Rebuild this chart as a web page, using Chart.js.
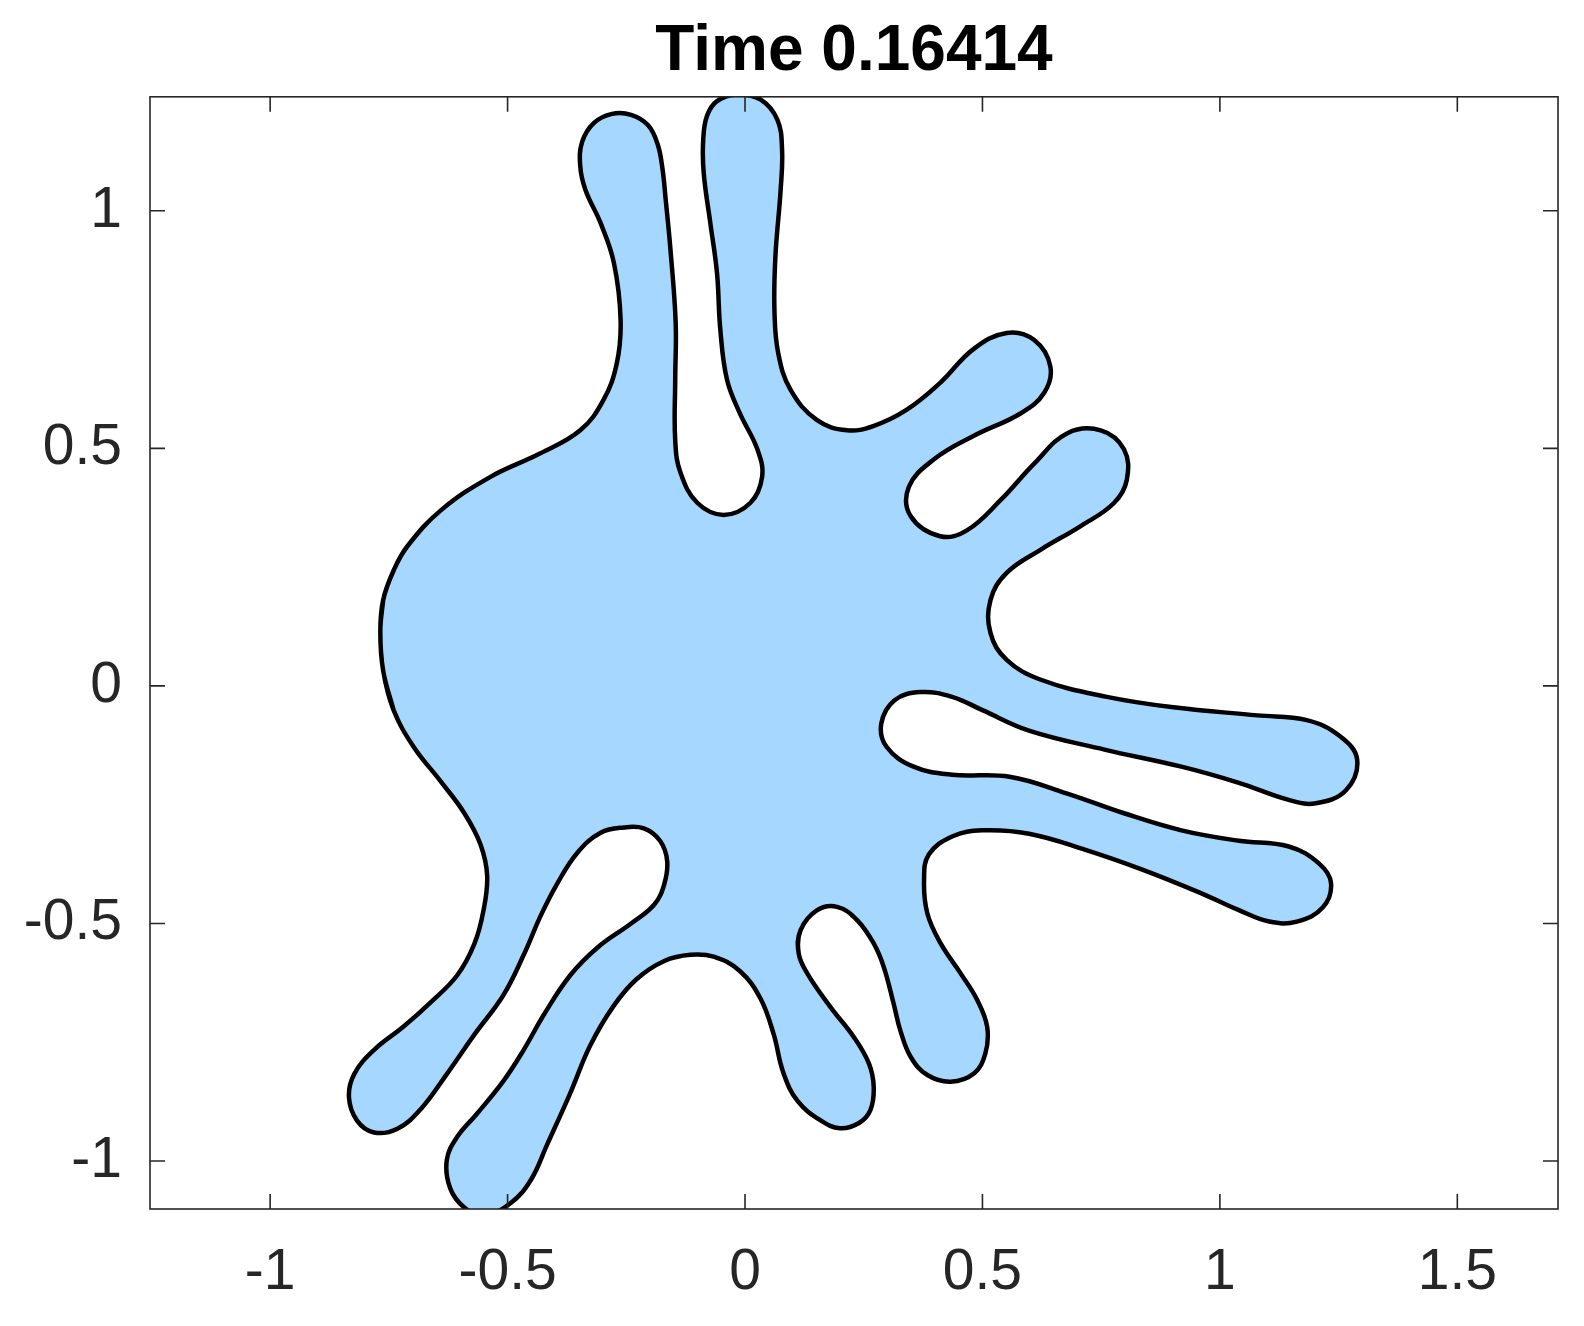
<!DOCTYPE html>
<html>
<head>
<meta charset="utf-8">
<title>Time 0.16414</title>
<script src="https://cdn.jsdelivr.net/npm/chart.js@4.4.1/dist/chart.umd.min.js"></script>
<style>
  html, body { margin: 0; padding: 0; background: #fff; }
  canvas { display: block; }
</style>
</head>
<body>
<canvas id="blobChart" width="1584" height="1326"></canvas>
<script>
// Outline of the interface, traced around the shape (data units)
const outlineX = [
    // left bulge
    -0.768, -0.762, -0.740, -0.711, -0.640, -0.536, -0.432, -0.347, -0.298, -0.270,
    // first upper finger
    -0.262, -0.276, -0.304, -0.336, -0.347, -0.343, -0.318, -0.280, -0.240, -0.204,
    -0.184, -0.174, -0.167, -0.157, -0.146,
    // gap between the upper fingers
    -0.147, -0.147, -0.136, -0.100, -0.045, 0.011, 0.036, 0.026, -0.011, -0.038,
    // second upper finger
    -0.052, -0.059, -0.073, -0.087, -0.088, -0.080, -0.059, -0.017, 0.033, 0.068,
    0.078, 0.075, 0.064, 0.062, 0.070,
    0.096, 0.151, 0.215, 0.270,
    // right side fingers
    0.340, 0.411, 0.481, 0.551, 0.609, 0.643, 0.630, 0.581, 0.481, 0.398,
    0.345, 0.349, 0.411, 0.468, 0.538, 0.609, 0.679, 0.749, 0.798, 0.804,
    0.777, 0.706, 0.623, 0.551, 0.517, 0.517, 0.551, 0.623, 0.762, 0.902,
    1.079, 1.183, 1.253, 1.289, 1.266, 1.202, 1.145, 1.040, 0.919, 0.757,
    0.598, 0.500, 0.436, 0.370, 0.315, 0.287, 0.298, 0.355, 0.436, 0.557,
    0.677, 0.798, 0.919, 1.040, 1.145, 1.209, 1.234, 1.217, 1.162, 1.104,
    1.040, 0.960, 0.838, 0.717, 0.598, 0.500, 0.436,
    // lower middle fingers
    0.387, 0.377, 0.384, 0.412, 0.454, 0.489, 0.510, 0.506, 0.482, 0.433,
    0.384, 0.349, 0.327, 0.313, 0.292, 0.271, 0.236, 0.194, 0.152, 0.117,
    0.113, 0.131, 0.180, 0.229, 0.261, 0.271, 0.264, 0.240, 0.200, 0.160,
    // lower left fingers and back up the left side
    0.111, 0.081, 0.060, 0.032, -0.011, -0.066, -0.115, -0.170, -0.228, -0.277,
    -0.326, -0.368, -0.417, -0.451, -0.494, -0.551, -0.591, -0.621, -0.628, -0.606,
    -0.564, -0.509, -0.466, -0.423, -0.368, -0.311, -0.240, -0.191, -0.170, -0.164,
    -0.179, -0.213, -0.255, -0.304, -0.353, -0.396, -0.430, -0.466, -0.509, -0.570,
    -0.628, -0.683, -0.732, -0.781, -0.817, -0.834, -0.823, -0.781, -0.719, -0.662,
    -0.606, -0.570, -0.551, -0.543, -0.557, -0.591, -0.640, -0.698, -0.740, -0.762,
    -0.768
];
const outlineY = [
    0.115, 0.181, 0.243, 0.294, 0.370, 0.440, 0.489, 0.538, 0.602, 0.679,
    0.771, 0.890, 0.974, 1.044, 1.094, 1.145, 1.185, 1.204, 1.202, 1.180,
    1.140, 1.090, 1.023, 0.918, 0.764,
    0.645, 0.517, 0.449, 0.385, 0.360, 0.385, 0.440, 0.498, 0.574, 0.645,
    0.750, 0.869, 0.974, 1.080, 1.150, 1.200, 1.231, 1.245, 1.234, 1.192,
    1.129, 1.044, 0.904, 0.790, 0.700,
    0.623, 0.560, 0.538, 0.547,
    0.581, 0.638, 0.709, 0.743, 0.728, 0.672, 0.617, 0.574, 0.526, 0.477,
    0.419, 0.357, 0.315, 0.328, 0.391, 0.468, 0.532, 0.538, 0.498, 0.434,
    0.385, 0.336, 0.287, 0.238, 0.181, 0.111, 0.055, 0.013, -0.023, -0.045,
    -0.062, -0.072, -0.106, -0.155, -0.219, -0.247, -0.240, -0.204, -0.170, -0.134,
    -0.094, -0.051, -0.023, -0.013, -0.030, -0.079, -0.128, -0.170, -0.187, -0.191,
    -0.226, -0.268, -0.304, -0.326, -0.338, -0.374, -0.415, -0.466, -0.496, -0.496,
    -0.472, -0.436, -0.387, -0.345, -0.311, -0.304, -0.317,
    -0.355, -0.409, -0.479, -0.542, -0.605, -0.661, -0.718, -0.774, -0.816, -0.833,
    -0.819, -0.781, -0.725, -0.669, -0.591, -0.542, -0.493, -0.465, -0.472, -0.514,
    -0.563, -0.605, -0.676, -0.739, -0.795, -0.844, -0.893, -0.920, -0.931, -0.915,
    -0.874, -0.815, -0.732, -0.657, -0.600, -0.570, -0.566, -0.579, -0.617, -0.674,
    -0.757, -0.857, -0.966, -1.040, -1.089, -1.115, -1.098, -1.057, -0.998, -0.949,
    -0.900, -0.832, -0.766, -0.691, -0.609, -0.551, -0.500, -0.460, -0.417, -0.368,
    -0.326, -0.300, -0.298, -0.309, -0.351, -0.417, -0.483, -0.566, -0.651, -0.734,
    -0.817, -0.891, -0.932, -0.940, -0.915, -0.866, -0.817, -0.766, -0.717, -0.666,
    -0.609, -0.543, -0.474, -0.400, -0.334, -0.268, -0.202, -0.128, -0.051, 0.032,
    0.115
];
const xLimits = [-1.253, 1.712];
const yLimits = [-1.101, 1.240];
const tickStep = 0.5;
const titleText = 'Time 0.16414';

const outline = outlineX.map((x, i) => ({x: x, y: outlineY[i]}));
// wrap a couple of points round the seam so the curve closes smoothly
const n = outline.length;
const closedOutline = [outline[n - 3], outline[n - 2], ...outline, outline[1]];

// box around the axes with inward tick marks on every side (MATLAB style)
const axesBox = {
    id: 'axesBox',
    afterDraw(chart) {
        const {ctx, chartArea: a, scales: {x, y}} = chart;
        const len = 15;
        ctx.save();
        ctx.strokeStyle = '#262626';
        ctx.lineWidth = 1.6;
        ctx.strokeRect(a.left, a.top, a.right - a.left, a.bottom - a.top);
        ctx.beginPath();
        x.ticks.forEach(t => {
            const px = x.getPixelForValue(t.value);
            ctx.moveTo(px, a.bottom); ctx.lineTo(px, a.bottom - len);
            ctx.moveTo(px, a.top); ctx.lineTo(px, a.top + len);
        });
        y.ticks.forEach(t => {
            const py = y.getPixelForValue(t.value);
            ctx.moveTo(a.left, py); ctx.lineTo(a.left + len, py);
            ctx.moveTo(a.right, py); ctx.lineTo(a.right - len, py);
        });
        ctx.stroke();
        ctx.restore();
    }
};

const tickLabel = (value) => Number(value.toFixed(2)).toString();

const ctx = document.getElementById('blobChart');

new Chart(ctx, {
    type: 'scatter',
    data: {
        datasets: [{
            data: closedOutline,
            showLine: true,
            fill: 'shape',
            backgroundColor: 'rgb(166, 216, 255)',
            borderColor: '#000',
            borderWidth: 4.5,
            tension: 0.4,
            pointRadius: 0,
            pointHoverRadius: 0
        }]
    },
    options: {
        responsive: false,
        animation: false,
        devicePixelRatio: 1,
        layout: {
            padding: {left: 0, right: 26, top: 0, bottom: 0}
        },
        plugins: {
            legend: {display: false},
            tooltip: {enabled: false},
            title: {
                display: true,
                text: titleText,
                fullSize: false,
                color: '#000',
                font: {
                    family: '"Liberation Sans", Arial, sans-serif',
                    size: 64,
                    weight: 'bold',
                    lineHeight: 1.2
                },
                padding: {top: 14, bottom: 6}
            }
        },
        scales: {
            x: {
                type: 'linear',
                min: xLimits[0],
                max: xLimits[1],
                afterFit: (scale) => { scale.height = 117; },
                grid: {display: false, drawTicks: false},
                border: {display: false},
                ticks: {
                    stepSize: tickStep,
                    includeBounds: false,
                    autoSkip: false,
                    maxRotation: 0,
                    padding: 30,
                    color: '#262626',
                    callback: tickLabel,
                    font: {
                        family: '"Liberation Sans", Arial, sans-serif',
                        size: 57
                    }
                }
            },
            y: {
                type: 'linear',
                min: yLimits[0],
                max: yLimits[1],
                afterFit: (scale) => { scale.width = 150; },
                grid: {display: false, drawTicks: false},
                border: {display: false},
                ticks: {
                    stepSize: tickStep,
                    includeBounds: false,
                    autoSkip: false,
                    padding: 28,
                    color: '#262626',
                    callback: tickLabel,
                    font: {
                        family: '"Liberation Sans", Arial, sans-serif',
                        size: 57
                    }
                }
            }
        }
    },
    plugins: [axesBox]
});
</script>
</body>
</html>
